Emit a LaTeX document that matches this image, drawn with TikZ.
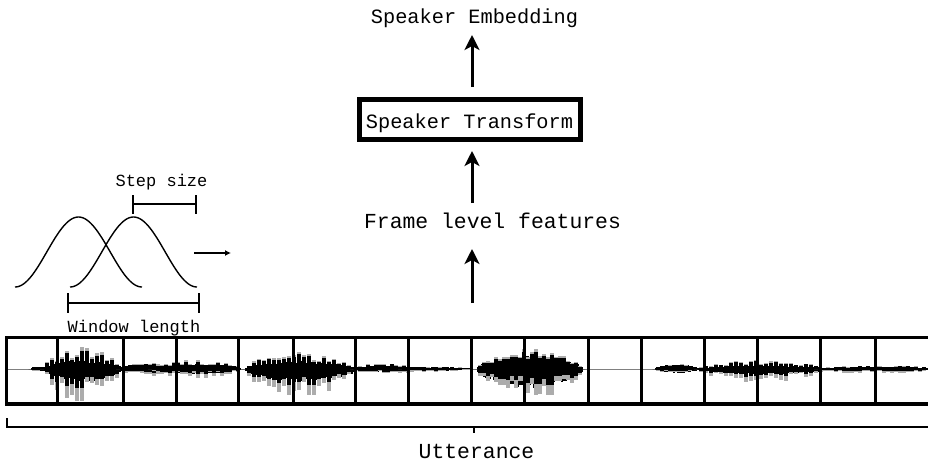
\documentclass[tikz,border=0pt]{standalone}
\usepackage{fontspec}
\setmonofont{Liberation Mono}
\usetikzlibrary{arrows.meta}
\tikzset{
  bigarrow/.style={line width=3pt,-{Stealth[length=15pt,width=15pt,inset=4pt]}},
  smallarrow/.style={line width=1.2pt,-{Latex[length=6pt,width=6pt]}},
  lbl/.style={anchor=base,inner sep=0pt,font=\ttfamily\fontsize{20.3}{24}\selectfont},
  biglbl/.style={anchor=base,inner sep=0pt,font=\ttfamily\fontsize{21.4}{25}\selectfont},
  smalllbl/.style={anchor=base,inner sep=0pt,font=\ttfamily\fontsize{17}{20}\selectfont},
  bracket/.style={line width=2pt},
  stripline/.style={line width=3.5pt},
  divider/.style={line width=3pt},
  bell/.style={line width=1.4pt},
  tbox/.style={draw,line width=5pt,minimum width=221pt,minimum height=40pt,inner sep=0pt}
}
% x0 x1 up down core spacing
\newcommand\wavseg[6]{%
  \pgfmathtruncatemacro\wnn{(#2-#1)/2}
  \foreach \i in {0,...,\wnn}{
    \pgfmathsetmacro\wx{#1+2*\i}
    \pgfmathsetmacro\wenv{sin(180*\i/\wnn)^0.6}
    \pgfmathsetmacro\wcu{#3*\wenv*#5*(0.7+0.3*rnd)}
    \pgfmathsetmacro\wcd{#4*\wenv*#5*(0.7+0.3*rnd)}
    \fill[black] (\wx-1.1,369-\wcu) rectangle (\wx+1.1,369+\wcd);
  }
  \pgfmathtruncatemacro\wmm{(#2-#1)/#6}
  \foreach \i in {0,...,\wmm}{
    \pgfmathsetmacro\wx{#1+#6*\i}
    \pgfmathsetmacro\wenv{sin(180*\i/\wmm)^0.6}
    \pgfmathsetmacro\wru{#3*\wenv*(0.5+0.5*rnd)}
    \pgfmathsetmacro\wrd{#4*\wenv*(0.4+0.6*rnd)}
    \fill[gray!65] (\wx-1.7,369-\wru) rectangle (\wx+1.7,369+\wrd);
    \fill[black] (\wx-1.7,369-0.85*\wru) rectangle (\wx+1.7,369+0.6*\wrd);
  }
}
\begin{document}
\begin{tikzpicture}[x=1pt,y=-1pt]
\clip (0,0) rectangle (928,461);
\fill[white] (0,0) rectangle (928,461);

% top chain
\node[lbl] (emb) at (474.5,23) {Speaker Embedding};
\node[tbox] (st) at (470,119.5) {};
\node[lbl] (sttext) at (469.5,128) {Speaker Transform};
\node[biglbl] (feat) at (492.5,228) {Frame level features};
\coordinate (a1s) at (472,87);
\coordinate (a1e) at (472,35);
\coordinate (a2s) at (472,203);
\coordinate (a2e) at (472,151);
\coordinate (a3s) at (472,303);
\coordinate (a3e) at (472,249);
\draw[bigarrow] (a1s) -- (a1e);
\draw[bigarrow] (a2s) -- (a2e);
\draw[bigarrow] (a3s) -- (a3e);

% window curves
\draw[bell] plot[domain=15:142,samples=90] (\x,{287-35*(1+cos(180*(\x-78.5)/63.5))});
\draw[bell] plot[domain=70:197,samples=90] (\x,{287-35*(1+cos(180*(\x-133.5)/63.5))});
\coordinate (sa) at (194,253);
\coordinate (sb) at (231,253);
\draw[smallarrow] (sa) -- (sb);

% step size bracket
\node[smalllbl] (step) at (161.5,186) {Step size};
\draw[bracket] (133,195) -- (133,214) (133,204) -- (196,204) (196,195) -- (196,214);
% window length bracket
\draw[bracket] (68,293) -- (68,313) (68,303) -- (199,303) (199,293) -- (199,313);
\node[smalllbl] (win) at (134,332) {Window length};

% waveform
\draw[gray,line width=0.6pt] (8,369) -- (928,369);
\pgfmathsetseed{11}
\wavseg{30}{48}{3}{3}{0.8}{4}
\wavseg{42}{124}{22}{33}{0.4}{5}
\wavseg{118}{182}{7}{7}{0.5}{4}
\wavseg{150}{242}{9}{9}{0.6}{4}
\wavseg{244}{358}{18}{31}{0.45}{5}
\wavseg{352}{420}{6}{6}{0.5}{4}
\wavseg{400}{472}{3}{3}{0.7}{4}
\wavseg{476}{584}{21}{30}{0.65}{4}
\wavseg{654}{700}{5}{5}{0.9}{4}
\wavseg{696}{830}{9}{14}{0.4}{5}
\wavseg{816}{940}{4}{5}{0.5}{4}

% strip
\draw[stripline] (935,337.5) -- (6.5,337.5) -- (6.5,404) -- (935,404);
\foreach \d in {57,123,176,238,293,355,408,471,524,588,641,704,757,820,875}
  \draw[divider] (\d,337.5) -- (\d,404);

% utterance bracket
\draw[bracket] (7,418) -- (7,427) -- (935,427);
\draw[bracket] (474,427) -- (474,433);
\node[biglbl] (utt) at (476.5,458) {Utterance};
\end{tikzpicture}
\end{document}
